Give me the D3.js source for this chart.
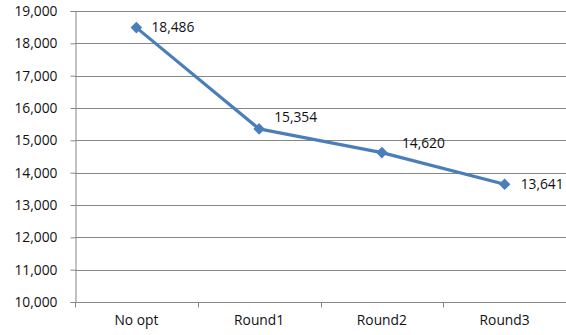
<!DOCTYPE html>
<html>
<head>
<meta charset="utf-8">
<script src="https://cdn.jsdelivr.net/npm/d3@7"></script>
<style>
  html, body { margin: 0; padding: 0; background: #fff; }
  svg { display: block; font-family: "Open Sans", "Liberation Sans", sans-serif; }
</style>
</head>
<body>
<svg id="chart" width="566" height="335"></svg>
<script>
// Series data
const categories = ["No opt", "Round1", "Round2", "Round3"];
const values = [18486, 15354, 14620, 13641];
const yTicks = [10000, 11000, 12000, 13000, 14000, 15000, 16000, 17000, 18000, 19000];

// Label nudges (pixels) so the value labels clear the line
const labelDx = [15, 15, 20, 16];
const labelDy = [0, -12, -9, 0];

const svg = d3.select("#chart");
const margin = { left: 75, right: 0, top: 11, bottom: 33 };
const W = 566, H = 335;

const x = d3.scaleBand().domain(categories).range([margin.left, W - margin.right]).padding(0);
const y = d3.scaleLinear().domain([10000, 19000]).range([H - margin.bottom, margin.top]);

const gridColor = "#868686";
const textColor = "#111";
const fontSize = "13.8px";
const fmt = d3.format(",");

// Horizontal gridlines
svg.append("g")
  .selectAll("line")
  .data(yTicks.filter(t => t !== 10000))
  .join("line")
  .attr("x1", margin.left).attr("x2", W - margin.right)
  .attr("y1", d => Math.round(y(d)) + 0.5).attr("y2", d => Math.round(y(d)) + 0.5)
  .attr("stroke", gridColor).attr("stroke-width", 1);

// Y axis
const yAxis = svg.append("g")
  .attr("transform", `translate(${margin.left + 0.5},0)`)
  .call(d3.axisLeft(y).tickValues(yTicks).tickFormat(fmt).tickSize(5).tickPadding(13));
yAxis.select(".domain").attr("stroke", gridColor);
yAxis.selectAll(".tick line").attr("stroke", gridColor);
yAxis.selectAll(".tick text")
  .attr("fill", textColor).style("font-size", fontSize)
  .style("font-family", "'Open Sans', 'Liberation Sans', sans-serif");

// X axis with ticks at category boundaries
const xAxisG = svg.append("g")
  .attr("transform", `translate(0,${Math.round(y(10000)) + 0.5})`);
xAxisG.append("line")
  .attr("x1", margin.left).attr("x2", W - margin.right)
  .attr("stroke", gridColor);
const boundaries = categories.map(c => x(c)).concat([x(categories[categories.length - 1]) + x.bandwidth()]);
xAxisG.selectAll("line.bt")
  .data(boundaries)
  .join("line")
  .attr("class", "bt")
  .attr("x1", d => Math.round(d) + 0.5).attr("x2", d => Math.round(d) + 0.5)
  .attr("y1", 0).attr("y2", 5)
  .attr("stroke", gridColor);
xAxisG.selectAll("text")
  .data(categories)
  .join("text")
  .attr("x", d => x(d) + x.bandwidth() / 2)
  .attr("y", 22)
  .attr("text-anchor", "middle")
  .attr("fill", textColor)
  .style("font-size", fontSize)
  .text(d => d);

// Line
const cx = i => x(categories[i]) + x.bandwidth() / 2;
const line = d3.line().x((d, i) => cx(i)).y(d => y(d));
svg.append("path")
  .datum(values)
  .attr("d", line)
  .attr("fill", "none")
  .attr("stroke", "#4a7ebb")
  .attr("stroke-width", 3.2)
  .attr("stroke-linejoin", "round");

// Diamond markers
svg.append("g")
  .selectAll("path")
  .data(values)
  .join("path")
  .attr("transform", (d, i) => `translate(${cx(i)},${y(d)})`)
  .attr("d", d3.symbol().type(d3.symbolDiamond2).size(85))
  .attr("fill", "#4a7ebb");

// Value labels
svg.append("g")
  .selectAll("text")
  .data(values)
  .join("text")
  .attr("x", (d, i) => cx(i) + labelDx[i])
  .attr("y", (d, i) => y(d) + labelDy[i])
  .attr("dy", "0.35em")
  .attr("fill", textColor)
  .style("font-size", fontSize)
  .text(d => fmt(d));
</script>
</body>
</html>
